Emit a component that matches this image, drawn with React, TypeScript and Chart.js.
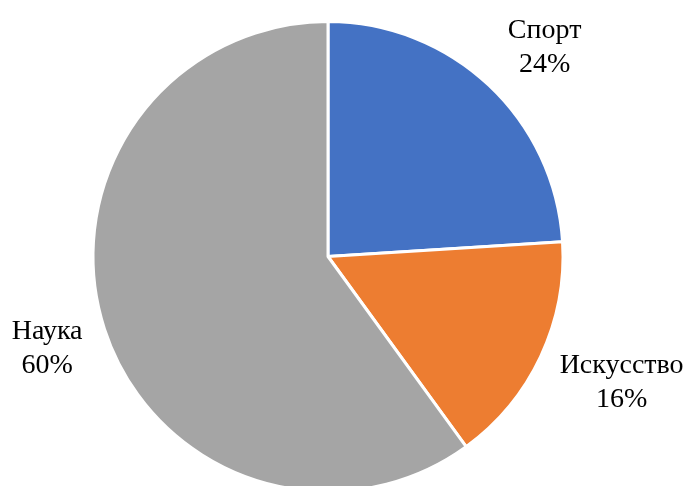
import React, { useEffect, useRef } from "react";
import { Chart, registerables } from "chart.js";

Chart.register(...registerables);

const categories = ["Спорт", "Искусство", "Наука"];
const values = [24, 16, 60];
const colors = ["#4472C4", "#ED7D31", "#A5A5A5"];

const labelPlugin = {
  id: "outsideLabels",
  afterDraw(chart: any) {
    const ctx = chart.ctx;
    const meta = chart.getDatasetMeta(0);
    const total = values.reduce((a, b) => a + b, 0);
    ctx.save();
    ctx.font = "28px 'Liberation Serif', 'Times New Roman', serif";
    ctx.fillStyle = "#000000";
    ctx.textAlign = "center";
    ctx.textBaseline = "middle";
    const lineH = 34;
    meta.data.forEach((arc: any, i: number) => {
      const { x, y, startAngle, endAngle, outerRadius } = arc.getProps(
        ["x", "y", "startAngle", "endAngle", "outerRadius"],
        true
      );
      const mid = (startAngle + endAngle) / 2;
      const lines = [categories[i], Math.round((values[i] / total) * 100) + "%"];
      const w = Math.max(...lines.map((l) => ctx.measureText(l).width));
      const h = lineH * lines.length;
      const cos = Math.cos(mid);
      const sin = Math.sin(mid);
      const ax = x + cos * outerRadius;
      const ay = y + sin * outerRadius;
      const gap = cos < 0 ? 22 : 19;
      const cx = ax + Math.sign(cos) * (w / 2 + gap);
      const cy = ay + sin * (h / 2 + 21) + 3;
      lines.forEach((l, k) => {
        ctx.fillText(l, cx, cy + (k - (lines.length - 1) / 2) * lineH);
      });
    });
    ctx.restore();
  },
};

export default function App() {
  const ref = useRef<HTMLCanvasElement>(null);
  useEffect(() => {
    document.body.style.margin = "0";
    const chart = new Chart(ref.current!, {
      type: "pie",
      data: {
        labels: categories,
        datasets: [
          {
            data: values,
            backgroundColor: colors,
            borderColor: "#ffffff",
            borderWidth: 3,
          },
        ],
      },
      options: {
        responsive: false,
        animation: false,
        layout: { padding: { top: 20, bottom: 27, left: 0, right: 31 } },
        plugins: {
          legend: { display: false },
          tooltip: { enabled: false },
        },
      },
      plugins: [labelPlugin],
    });
    return () => chart.destroy();
  }, []);
  return (
    <div style={{ width: 687, height: 486, overflow: "hidden", position: "relative", background: "#fff" }}>
      <canvas ref={ref} width={687} height={520} style={{ display: "block" }} />
    </div>
  );
}
